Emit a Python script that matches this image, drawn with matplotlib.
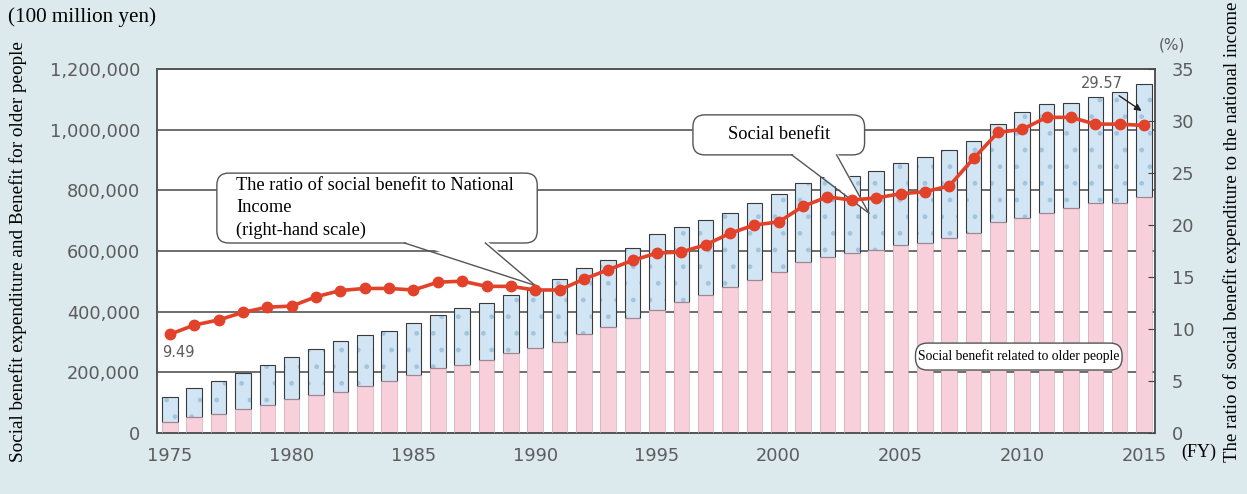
import matplotlib
matplotlib.use("Agg")
import matplotlib.pyplot as plt
from matplotlib.patches import FancyBboxPatch, Polygon
from matplotlib.lines import Line2D
from matplotlib.ticker import FuncFormatter, MultipleLocator
import numpy as np

years = list(range(1975, 2016))
total_benefit = [
    119000, 147000, 170000, 199000, 223000, 249000, 277000, 302000, 322000, 337000,
    361000, 389000, 411000, 428000, 455000, 473000, 508000, 543000, 570000, 609000,
    656000, 680000, 702000, 724000, 757000, 788000, 823000, 845000, 847000, 865000,
    889000, 909000, 933000, 963000, 1019000, 1057000, 1084000, 1089000, 1109000, 1123000,
    1151000,
]
older_benefit = [
    37000, 52000, 63000, 80000, 92000, 111000, 125000, 136000, 156000, 172000,
    190000, 213000, 224000, 241000, 263000, 279000, 301000, 326000, 350000, 378000,
    405000, 433000, 455000, 482000, 504000, 532000, 563000, 581000, 594000, 603000,
    621000, 627000, 642000, 660000, 695000, 710000, 724000, 741000, 757000, 759000,
    779000,
]
ratio = [
    9.49, 10.38, 10.87, 11.6, 12.1, 12.2, 13.1, 13.7, 13.9, 13.9,
    13.75, 14.5, 14.6, 14.1, 14.1, 13.75, 13.75, 14.8, 15.7, 16.6,
    17.3, 17.4, 18.1, 19.2, 20.0, 20.3, 21.8, 22.7, 22.4, 22.6,
    23.0, 23.2, 23.75, 26.4, 28.9, 29.2, 30.35, 30.35, 29.7, 29.7,
    29.57,
]
xtick_years = [1975, 1980, 1985, 1990, 1995, 2000, 2005, 2010, 2015]

BG = "#dce9ed"
PINK = "#f7d0dc"
BLUE = "#d2e5f4"
DOT = "#a3c4dd"
RED = "#e2412a"
GRID = "#6e6e6e"
TICKC = "#5c5c5c"
SERIF = ["Liberation Serif", "DejaVu Serif"]

plt.rcParams["hatch.linewidth"] = 1.0

W, H = 1247, 494
fig = plt.figure(figsize=(W / 100, H / 100), dpi=100, facecolor=BG)
ax_l, ax_r, ax_t, ax_b = 157, 1155, 69, 433
ax = fig.add_axes([ax_l / W, 1 - ax_b / H, (ax_r - ax_l) / W, (ax_b - ax_t) / H])
ax.set_facecolor("white")

x = np.array(years)
tot = np.array(total_benefit)
old = np.array(older_benefit)
bw = 0.64

ax.bar(x, old, width=bw, color=PINK, linewidth=0, zorder=2)
ax.bar(x, tot - old, bottom=old, width=bw, color=BLUE, edgecolor=DOT,
       linewidth=0, hatch=".", zorder=2)
ax.bar(x, tot - old, bottom=old, width=bw, fill=False, edgecolor="#3a3a3a",
       linewidth=0.8, zorder=3)
ax.bar(x, old, width=bw, fill=False, edgecolor="#d2aab6", linewidth=0.5, zorder=3)

ax.set_xlim(1974.47, 2015.45)
ax.set_ylim(0, 1200000)
ax.set_yticks(np.arange(0, 1200001, 200000))
ax.yaxis.set_major_formatter(FuncFormatter(lambda v, p: f"{int(v):,}"))
ax.set_xticks(xtick_years)
ax.xaxis.set_minor_locator(MultipleLocator(1))
ax.grid(axis="y", color=GRID, linewidth=1.4, zorder=1)
ax.set_axisbelow(True)
for s in ax.spines.values():
    s.set_color("#555555")
    s.set_linewidth(1.4)
ax.tick_params(axis="y", direction="in", length=0, pad=12, labelsize=12.8, labelcolor=TICKC)
ax.tick_params(axis="x", which="major", direction="in", length=5, color="#444444",
               pad=10, labelsize=12.8, labelcolor=TICKC)
ax.tick_params(axis="x", which="minor", direction="in", length=4, color="#444444")

ax2 = ax.twinx()
ax2.set_ylim(0, 35)
ax2.set_yticks(np.arange(0, 36, 5))
ax2.plot(x, ratio, color=RED, linewidth=2.6, marker="o", markersize=7.5,
         markerfacecolor=RED, markeredgecolor=RED, zorder=5)
for s in ax2.spines.values():
    s.set_visible(False)
ax2.tick_params(axis="y", direction="in", length=5, color="#444444", pad=12,
                labelsize=12.8, labelcolor=TICKC)

# value labels
ax2.annotate(f"{ratio[0]:.2f}", xy=(x[0], ratio[0]), xytext=(-8, -18),
             textcoords="offset pixels", ha="left", va="center", fontsize=10.5,
             color=TICKC, zorder=6)
ax2.annotate(f"{ratio[-1]:.2f}", xy=(x[-1] - 0.1, ratio[-1] + 1.4), xytext=(-40, 27),
             textcoords="offset pixels", ha="center", va="center", fontsize=10.5,
             color=TICKC, zorder=6,
             arrowprops=dict(arrowstyle="-|>", color="#222222", lw=1.0,
                             shrinkA=2, shrinkB=0, mutation_scale=10))


def callout(box, text, tip=None, base=None, fontsize=13.2, ha="center", tx=None,
            linespacing=1.2):
    (x0, y0, x1, y1) = box
    tr = ax.transAxes
    if tip is not None:
        bx0, bx1 = base
        tip_ax = ax.transAxes.inverted().transform(ax.transData.transform(tip))
        poly = Polygon([(bx0, y0 + 0.01), (bx1, y0 + 0.01), tuple(tip_ax)], closed=True,
                       transform=tr, facecolor="white", edgecolor="none", zorder=7,
                       clip_on=False)
        ax.add_patch(poly)
        for bx in (bx0, bx1):
            ax.add_line(Line2D([bx, tip_ax[0]], [y0, tip_ax[1]], transform=tr,
                               color="#555555", linewidth=1.0, zorder=8,
                               clip_on=False))
    bb = FancyBboxPatch((x0, y0), x1 - x0, y1 - y0,
                        boxstyle="round,pad=0,rounding_size=0.012",
                        transform=tr, facecolor="white", edgecolor="#555555",
                        linewidth=1.0, zorder=6, clip_on=False,
                        mutation_aspect=(998 / 364))
    ax.add_patch(bb)
    if tip is not None:
        bx0, bx1 = base
        ax.add_line(Line2D([bx0 + 0.002, bx1 - 0.002], [y0, y0], transform=tr,
                           color="white", linewidth=2.0, zorder=7, clip_on=False))
    tx_ = tx if tx is not None else (x0 + x1) / 2
    ax.text(tx_, (y0 + y1) / 2, text, transform=tr, ha=ha, va="center",
            fontsize=fontsize, family=SERIF, zorder=9, linespacing=linespacing)


callout((0.060, 0.522, 0.381, 0.714),
        "The ratio of social benefit to National\nIncome\n(right-hand scale)",
        tip=(x[15], ratio[15] * 1200000 / 35 + 15000), base=(0.248, 0.329),
        ha="left", tx=0.079, linespacing=1.4)
callout((0.537, 0.764, 0.709, 0.874), "Social benefit",
        tip=(2003.7, 725000), base=(0.636, 0.681))
callout((0.760, 0.173, 0.967, 0.247), "Social benefit related to older people",
        fontsize=9.8)

fig.text(8 / W, 1 - 17 / H, "(100 million yen)", ha="left", va="center",
         fontsize=15.2, family=SERIF)
fig.text(1172 / W, 1 - 45 / H, "(%)", ha="center", va="center", fontsize=11,
         color=TICKC)
fig.text(1181 / W, 1 - 452 / H, "(FY)", ha="left", va="center", fontsize=13,
         family=SERIF)
fig.text(18 / W, 1 - 252 / H, "Social benefit expenditure and Benefit for older people",
         rotation=90, ha="center", va="center", fontsize=13.8, family=SERIF)
fig.text(1232 / W, 1 - 232 / H,
         "The ratio of social benefit expenditure to the national income",
         rotation=90, ha="center", va="center", fontsize=13.5, family=SERIF)

fig.savefig("out.png", dpi=100, facecolor=BG)
